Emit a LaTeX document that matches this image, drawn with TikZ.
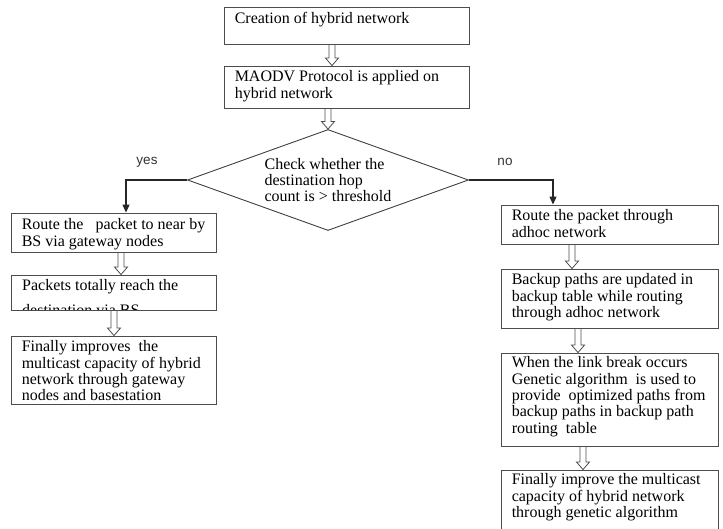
\documentclass[tikz,border=0pt]{standalone}
\usepackage{fontspec}
\setmainfont{Liberation Serif}
\newfontfamily\yesnofont{Liberation Sans}
\usetikzlibrary{positioning, shapes.geometric, arrows.meta}
% hollow block arrow: #1 = x of the shaft, #2 = upper node, #3 = lower node
\newcommand{\hollowarrow}[3]{%
  \path (#1,0 |- #2.south) coordinate (ha top) (#1,0 |- #3.north) coordinate (ha tip);
  \draw[hollow] ([xshift=-3pt]ha top) -- ([xshift=-3pt,yshift=7.5pt]ha tip)
    -- ([xshift=-6.5pt,yshift=7.5pt]ha tip) -- (ha tip) -- ([xshift=6.5pt,yshift=7.5pt]ha tip)
    -- ([xshift=3pt,yshift=7.5pt]ha tip) -- ([xshift=3pt]ha top);
}

\begin{document}
\begin{tikzpicture}[x=1pt, y=-1pt,
    stepbox/.style={draw=black!70, line width=0.9pt, rectangle, inner sep=0pt},
    boxtext/.style={anchor=north west, inner sep=0pt, align=left, font=\fontsize{16}{16.3}\selectfont},
    decision/.style={draw=black!75, line width=0.9pt, diamond, aspect=2.8, inner sep=0pt,
      minimum width=281pt, minimum height=101pt, align=left, font=\fontsize{16}{16}\selectfont},
    hollow/.style={draw=black!70, line width=0.8pt, line join=miter},
    flow/.style={draw=black!85, line width=1.1pt, -{Triangle[length=8pt,width=7pt]}},
    yesno/.style={font=\yesnofont\fontsize{13.5}{14}\selectfont, text=black!80, inner sep=0pt}]
  \path[use as bounding box] (0,0) rectangle (723,529);
  \clip (0,0) rectangle (723,529);

  % top of the chart
  \node[stepbox, minimum width=245pt, minimum height=37pt] (create) at (346.5,25.5) {};
  \node[boxtext] (create text) at ([xshift=11pt,yshift=-5pt]create.north west) {Creation of hybrid network};
  \node[stepbox, minimum width=245pt, minimum height=42pt] (maodv) at (346.5,87) {};
  \node[boxtext] (maodv text) at ([xshift=11pt,yshift=-5pt]maodv.north west) {MAODV Protocol is applied on\\hybrid network};
  \node[decision] (check) at (328,180) {Check whether the\\destination hop\\count is > threshold};

  % yes branch
  \node[stepbox, minimum width=205pt, minimum height=39pt] (bsroute) at (113.5,232.5) {};
  \node[boxtext] (bsroute text) at ([xshift=11pt,yshift=-6pt]bsroute.north west) {Route the \ \ packet to near by\\BS via gateway nodes};
  \begin{scope}
    \clip (11,275) rectangle (216,310);
    \node[boxtext] (reach text) at (22,279.5) {Packets totally reach the\\[8pt]destination via BS};
  \end{scope}
  \node[stepbox, minimum width=205pt, minimum height=35pt] (reach) at (113.5,292.5) {};
  \node[stepbox, minimum width=205pt, minimum height=68pt] (finleft) at (113.5,370) {};
  \node[boxtext] (finleft text) at ([xshift=11pt,yshift=-5pt]finleft.north west) {Finally improves \ the\\multicast capacity of hybrid\\network through gateway\\nodes and basestation};

  % no branch
  \node[stepbox, minimum width=217pt, minimum height=39pt] (adhoc) at (609.5,224.5) {};
  \node[boxtext] (adhoc text) at ([xshift=11pt,yshift=-5pt]adhoc.north west) {Route the packet through\\adhoc network};
  \node[stepbox, minimum width=217pt, minimum height=59pt] (backup) at (609.5,298.5) {};
  \node[boxtext] (backup text) at ([xshift=11pt,yshift=-5pt]backup.north west) {Backup paths are updated in\\backup table while routing\\through adhoc network};
  \node[stepbox, minimum width=217pt, minimum height=93pt] (genetic) at (609.5,399.5) {};
  \node[boxtext] (genetic text) at ([xshift=11pt,yshift=-4pt]genetic.north west) {When the link break occurs\\Genetic algorithm \ is used to\\provide \ optimized paths from\\backup paths in backup path\\routing \ table};
  \node[stepbox, minimum width=217pt, minimum height=70pt] (finright) at (609.5,505) {};
  \node[boxtext] (finright text) at ([xshift=11pt,yshift=-4pt]finright.north west) {Finally improve the multicast\\capacity of hybrid network\\through genetic algorithm};

  \node[yesno] (yes) at (147,162) {yes};
  \node[yesno] (no) at (505,162) {no};

  \draw[flow] (check.west) -| ([xshift=12.5pt]bsroute.north);
  \draw[flow] (check.east) -| ([xshift=-56.5pt]adhoc.north);

  \hollowarrow{332}{create}{maodv}
  \hollowarrow{328}{maodv}{check}
  \hollowarrow{121}{bsroute}{reach}
  \hollowarrow{114}{reach}{finleft}
  \hollowarrow{572}{adhoc}{backup}
  \hollowarrow{578}{backup}{genetic}
  \hollowarrow{583}{genetic}{finright}
\end{tikzpicture}
\end{document}
